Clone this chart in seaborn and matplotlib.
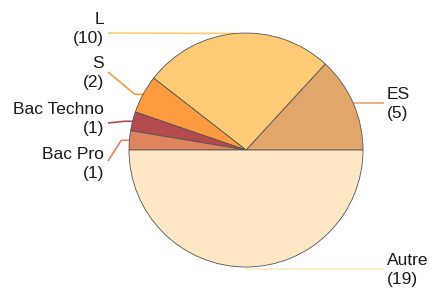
import numpy as np
import matplotlib
matplotlib.use("Agg")
import matplotlib.pyplot as plt
import seaborn as sns

# ---- data ----
categories = ["ES", "L", "S", "Bac Techno", "Bac Pro", "Autre"]
counts = [5, 10, 2, 1, 1, 19]
colors = ["#E2A66A", "#FDCB76", "#FD9A40", "#B44A4E", "#E0845E", "#FEE7C4"]

# ---- layout (pixel positions of label line ends / text centres) ----
W, H = 433, 290
CX, CY, R = 246, 150, 117
line_end_y = [103, 33, 72, 123, 161, 269]
text_y = [104, 29, 73, 119, 164, 270]
LEFT_X, RIGHT_X = 108, 384

sns.set_theme(style="white")
plt.rcParams["font.family"] = ["Liberation Sans", "DejaVu Sans"]

fig = plt.figure(figsize=(W / 100, H / 100), dpi=100)
ax = fig.add_axes([0, 0, 1, 1])

def px(x, y):
    return (x - CX) / R, (CY - y) / R

wedges, _ = ax.pie(counts, colors=colors, startangle=0, counterclock=True,
                   radius=1, wedgeprops=dict(edgecolor="#555555", linewidth=0.6))

total = sum(counts)
cum = np.cumsum([0] + counts)
for i, (cat, n, col) in enumerate(zip(categories, counts, colors)):
    mid = np.deg2rad((cum[i] + cum[i + 1]) / 2 / total * 360)
    ex, ey = np.cos(mid), np.sin(mid)
    right = ex > 0.01 or (abs(ex) <= 0.01 and ey < 0)
    sgn = 1 if right else -1
    endx, endy = px(RIGHT_X if right else LEFT_X, line_end_y[i])
    if abs(ex) <= 0.01:
        elbow = (ex, endy)
    else:
        elbow = (ex + sgn * 0.07, ey)
    ax.plot([ex, elbow[0], endx], [ey, elbow[1], endy], color=col, lw=1.2,
            solid_capstyle="butt", zorder=0)
    tx, ty = px((RIGHT_X + 3) if right else (LEFT_X - 4), text_y[i])
    ax.text(tx, ty, f"{cat}\n({n})", ha="left" if right else "right",
            va="center", fontsize=12.5, color="#1a1a1a", linespacing=1.4)

ax.set_xlim(-CX / R, (W - CX) / R)
ax.set_ylim(-(H - CY) / R, CY / R)
ax.set_aspect("equal")
ax.axis("off")
fig.savefig("out.png", dpi=100)
